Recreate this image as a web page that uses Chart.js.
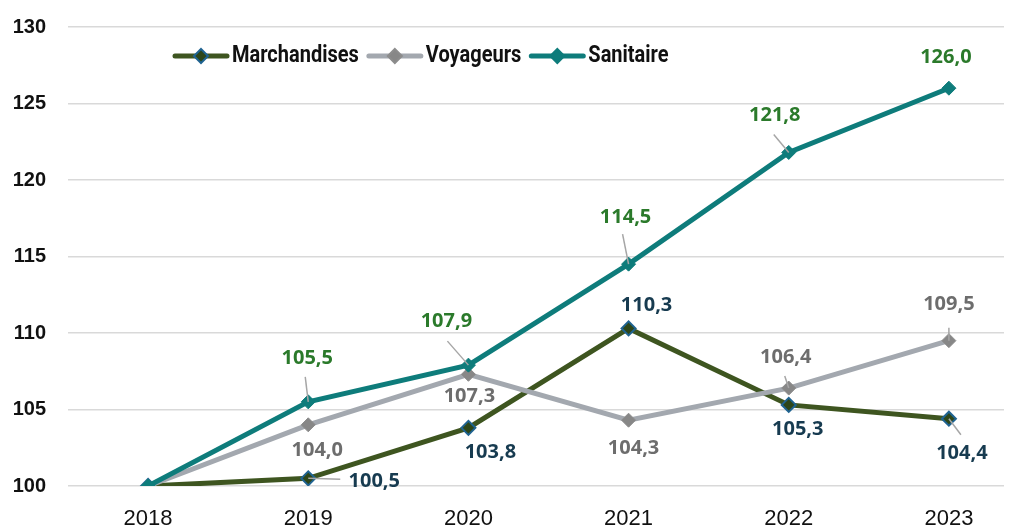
<!DOCTYPE html>
<html>
<head>
<meta charset="utf-8">
<style>
    body { margin: 0; background: #fff; }
    #chartContainer { width: 1013px; height: 530px; }
</style>
</head>
<body>
<div id="chartContainer">
    <canvas id="myChart"></canvas>
</div>

<script src="https://cdn.jsdelivr.net/npm/chart.js@4.4.0/dist/chart.umd.min.js"></script>
<script>
    // data
    var years = [2018, 2019, 2020, 2021, 2022, 2023];
    var marchandises = [100, 100.5, 103.8, 110.3, 105.3, 104.4];
    var voyageurs = [100, 104.0, 107.3, 104.3, 106.4, 109.5];
    var sanitaire = [100, 105.5, 107.9, 114.5, 121.8, 126.0];
    var yTicks = [100, 105, 110, 115, 120, 125, 130];

    // label placement (offset from point, optional leader end), null = no label
    var labelPlaces = [
        [null, {dx: 66, dy: 3, leader: [32, 1]}, {dx: 22, dy: 24}, {dx: 18, dy: -23}, {dx: 9, dy: 24}, {dx: 13, dy: 35, leader: [12, 16]}],
        [null, {dx: 9, dy: 25}, {dx: 1, dy: 22}, {dx: 5, dy: 28}, {dx: -3, dy: -31, leader: [-4, -12]}, {dx: 0, dy: -36, leader: [0, -13]}],
        [null, {dx: -1, dy: -44, leader: [-3, -25]}, {dx: -22, dy: -44, leader: [-21, -24]}, {dx: -3, dy: -47, leader: [-6, -30]}, {dx: -14, dy: -37, leader: [-15, -18]}, {dx: -3, dy: -31}]
    ];
    var labelColors = ['#173B50', '#6D6D6D', '#2B7A2B'];

    function toPoints(arr) {
        return arr.map(function (v, i) { return {x: years[i], y: v}; });
    }

    var ctx = document.getElementById('myChart').getContext('2d');

    // data labels with leader lines
    var labelPlugin = {
        id: 'pointLabels',
        afterDatasetsDraw: function (chart) {
            var c = chart.ctx;
            chart.data.datasets.forEach(function (ds, di) {
                var meta = chart.getDatasetMeta(di);
                meta.data.forEach(function (pt, i) {
                    var place = labelPlaces[di][i];
                    if (!place) return;
                    if (place.leader) {
                        c.save();
                        c.strokeStyle = '#A6A6A6';
                        c.lineWidth = 1.5;
                        c.beginPath();
                        c.moveTo(pt.x, pt.y);
                        c.lineTo(pt.x + place.leader[0], pt.y + place.leader[1]);
                        c.stroke();
                        c.restore();
                    }
                    c.save();
                    c.font = 'bold 20px "Open Sans", sans-serif';
                    c.fillStyle = labelColors[di];
                    c.textAlign = 'center';
                    c.textBaseline = 'middle';
                    c.fillText(ds.data[i].y.toFixed(1).replace('.', ','), pt.x + place.dx, pt.y + place.dy);
                    c.restore();
                });
            });
        }
    };

    // legend drawn by hand: line, diamond, bold narrow text
    var legendPlugin = {
        id: 'lineLegend',
        afterDraw: function (chart) {
            var c = chart.ctx;
            var x = 175, y = 56, squeeze = 0.87;
            c.save();
            c.font = 'bold 23px "Roboto", sans-serif';
            c.textBaseline = 'middle';
            chart.data.datasets.forEach(function (ds) {
                c.strokeStyle = ds.borderColor;
                c.lineWidth = 5;
                c.lineCap = 'round';
                c.beginPath();
                c.moveTo(x, y);
                c.lineTo(x + 52, y);
                c.stroke();
                var mx = x + 26;
                c.beginPath();
                c.moveTo(mx, y - 7);
                c.lineTo(mx + 7, y);
                c.lineTo(mx, y + 7);
                c.lineTo(mx - 7, y);
                c.closePath();
                c.fillStyle = ds.pointBackgroundColor;
                c.fill();
                c.lineWidth = 2;
                c.strokeStyle = ds.pointBorderColor;
                c.stroke();
                c.save();
                c.translate(x + 57, y);
                c.scale(squeeze, 1);
                c.fillStyle = '#111';
                c.fillText(ds.label, 0, 0);
                c.restore();
                x += 57 + c.measureText(ds.label).width * squeeze + 10;
            });
            c.restore();
        }
    };

    var myChart = new Chart(ctx, {
        type: 'line',
        data: {
            datasets: [{
                label: 'Marchandises',
                data: toPoints(marchandises),
                borderColor: '#3E5520',
                borderWidth: 5,
                pointStyle: 'rectRot',
                pointRadius: 7,
                pointBackgroundColor: '#2D4619',
                pointBorderColor: '#1F6391',
                pointBorderWidth: 2,
                order: 2
            }, {
                label: 'Voyageurs',
                data: toPoints(voyageurs),
                borderColor: '#A3A8AF',
                borderWidth: 5,
                pointStyle: 'rectRot',
                pointRadius: 7,
                pointBackgroundColor: '#878787',
                pointBorderColor: '#8C8C8C',
                pointBorderWidth: 1,
                order: 1
            }, {
                label: 'Sanitaire',
                data: toPoints(sanitaire),
                borderColor: '#0E7C7B',
                borderWidth: 5,
                pointStyle: 'rectRot',
                pointRadius: 7,
                pointBackgroundColor: '#0E7C7B',
                pointBorderColor: '#0E7C7B',
                pointBorderWidth: 1,
                order: 0
            }]
        },
        options: {
            responsive: true,
            maintainAspectRatio: false,
            animation: false,
            layout: { padding: { top: 27, left: 10, right: 3, bottom: 0 } },
            plugins: {
                legend: { display: false },
                tooltip: { enabled: false }
            },
            scales: {
                x: {
                    type: 'linear',
                    min: 2017.5,
                    max: 2023.344,
                    afterBuildTicks: function (scale) {
                        scale.ticks = years.map(function (v) { return {value: v}; });
                    },
                    afterFit: function (scale) {
                        scale.height = 44;
                        scale.paddingLeft = 0;
                        scale.paddingRight = 0;
                    },
                    grid: { display: false, drawTicks: false },
                    border: { display: false },
                    ticks: {
                        padding: 20,
                        color: '#111',
                        font: { family: '"Liberation Sans", Arial, sans-serif', size: 22 },
                        callback: function (v) { return String(v); }
                    }
                },
                y: {
                    min: 100,
                    max: 130,
                    afterBuildTicks: function (scale) {
                        scale.ticks = yTicks.map(function (v) { return {value: v}; });
                    },
                    afterFit: function (scale) {
                        scale.width = 58;
                        scale.paddingTop = 0;
                        scale.paddingBottom = 0;
                    },
                    grid: { color: '#D9D9D9', lineWidth: 1.5, drawTicks: false },
                    border: { display: false },
                    ticks: {
                        padding: 22,
                        color: '#111',
                        font: { family: '"Liberation Sans", Arial, sans-serif', size: 20, weight: 'bold' }
                    }
                }
            }
        },
        plugins: [labelPlugin, legendPlugin]
    });
</script>
</body>
</html>
